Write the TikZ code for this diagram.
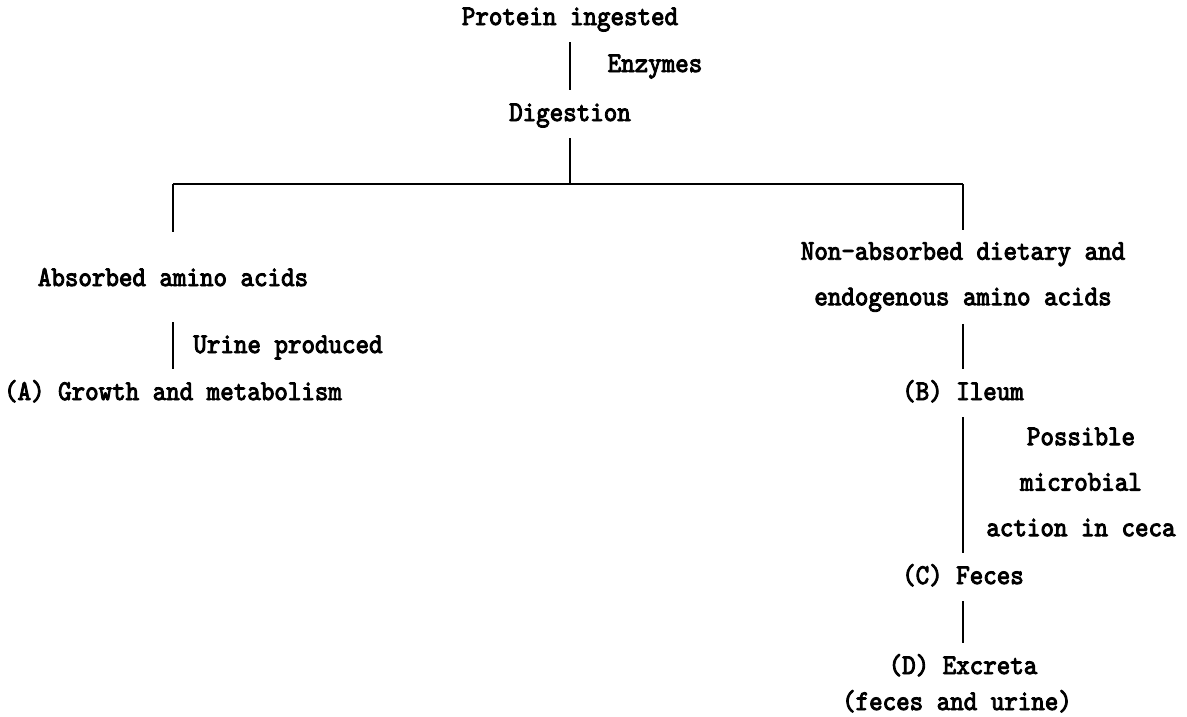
\documentclass[tikz,border=0pt]{standalone}
\usepackage{fontspec}
\newfontfamily\chartfont{lmmono10-regular.otf}[FakeBold=3.2,FakeStretch=0.9]

\begin{document}
\begin{tikzpicture}[x=1pt,y=-1pt,
  lbl/.style={font=\chartfont\fontsize{28.6}{45.5}\selectfont,
    inner sep=0pt,outer ysep=12pt,text height=19pt,text depth=5pt},
  para/.style={lbl,align=center,text height=,text depth=},
  link/.style={line width=1.2pt}]
  \useasboundingbox (0,0) rectangle (1187,716);
  \node [lbl] (prot) at (570,18) {Protein ingested};
  \node [lbl] (enz) at (655,65) {Enzymes};
  \node [lbl] (dig) at (570,114) {Digestion};
  \coordinate (split) at (570,184);
  \coordinate (lft) at (173,184);
  \coordinate (rgt) at (963,184);
  \node [lbl] (abs) at (173,279) {Absorbed amino acids};
  \node [lbl] (urine) at (288,346) {Urine produced};
  \node [lbl] (grow) at (173,393) {(A) Growth and metabolism};
  \node [para] (nonabs) at (963,277) {Non-absorbed dietary and\\endogenous amino acids};
  \node [lbl] (ileum) at (963,393) {(B) Ileum};
  \node [para] (micro) at (1081,482) {Possible\\microbial\\action in ceca};
  \node [lbl] (feces) at (963,577) {(C) Feces};
  \node [lbl] (excr) at (963,667) {(D) Excreta};
  \node [lbl] (fu) at (957,703) {(feces and urine)};
  \draw [link] (prot) -- (dig);
  \draw [link] (dig) -- (split);
  \draw [link] (lft) -- (rgt);
  \draw [link,shorten >=23pt] (lft) -- (abs);
  \draw [link,outer ysep=0pt] (rgt) -- (nonabs);
  \draw [link,shorten <=19pt] (abs) -- (grow);
  \draw [link] (nonabs) -- (ileum);
  \draw [link] (ileum) -- (feces);
  \draw [link] (feces) -- (excr);
\end{tikzpicture}
\end{document}
